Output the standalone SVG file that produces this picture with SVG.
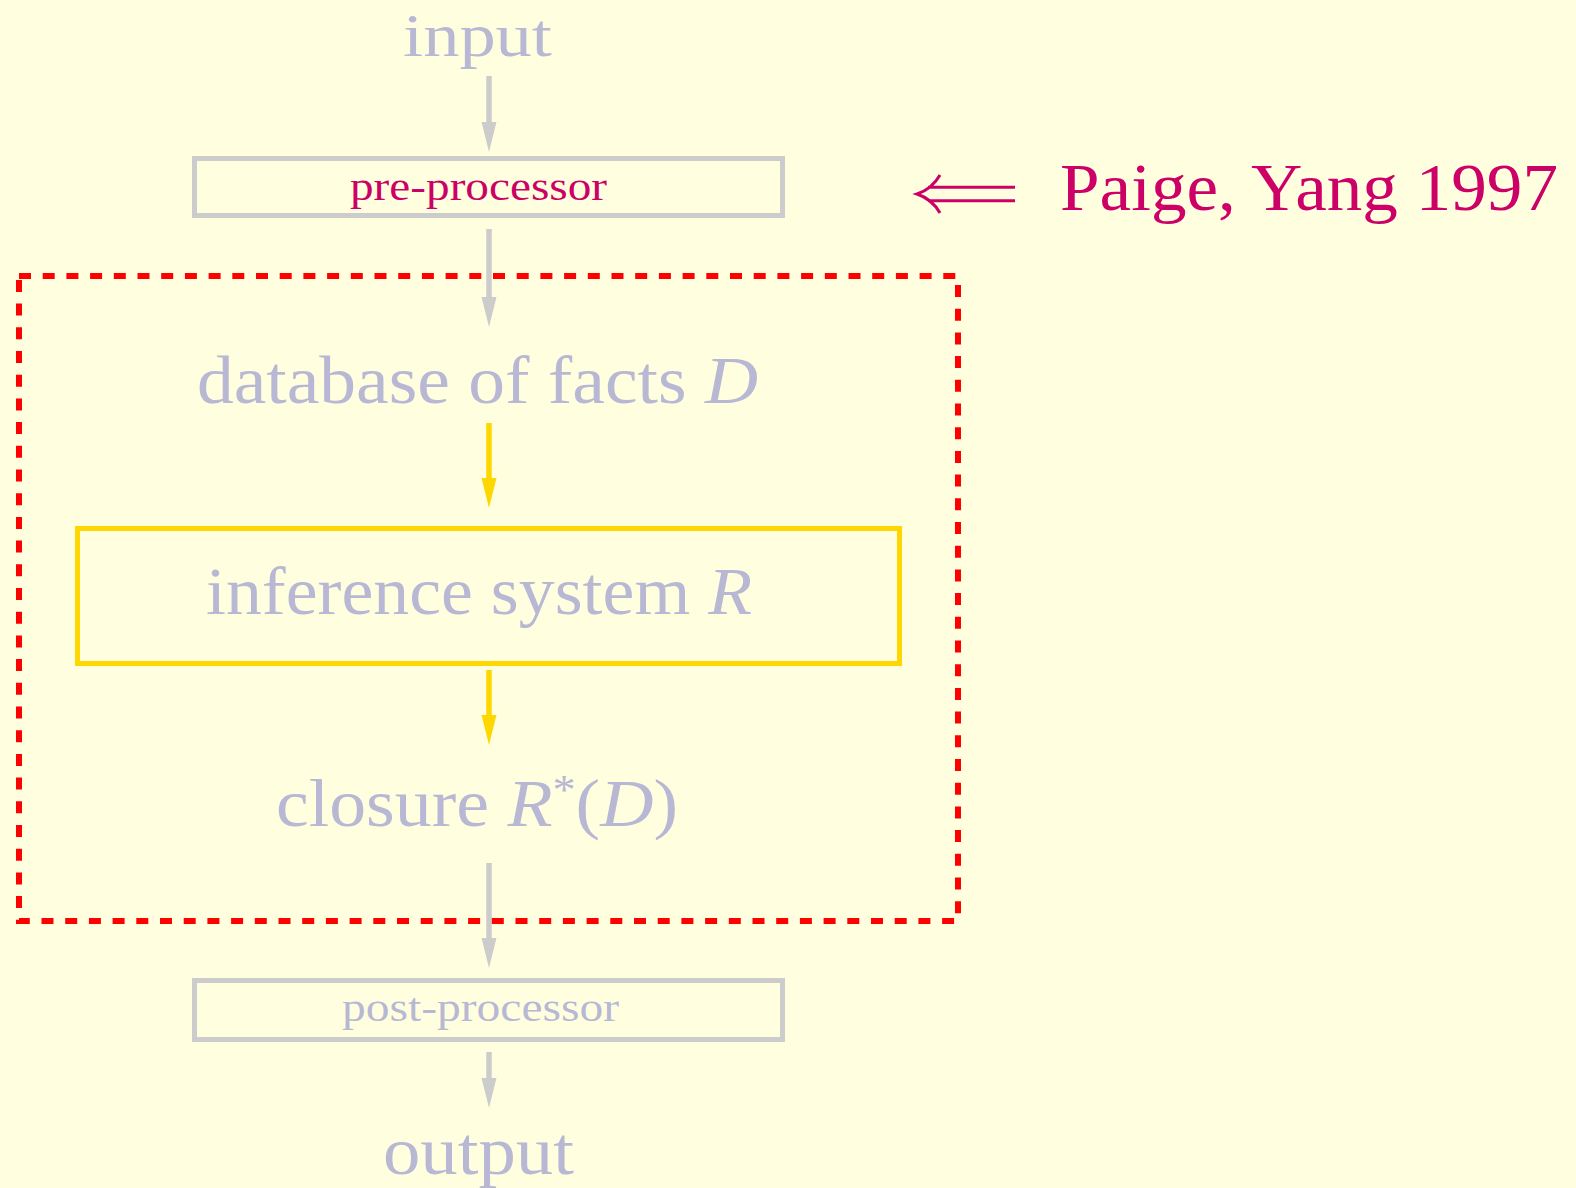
<svg xmlns="http://www.w3.org/2000/svg" width="1576" height="1188" viewBox="0 0 1576 1188">
<style>
.big{font-family:"Liberation Serif","DejaVu Serif",serif;font-size:67px;fill:#b8b8d4}
.small{font-family:"Liberation Serif","DejaVu Serif",serif;font-size:40px}
.it{font-style:italic}
.gline{stroke:#cccccc;stroke-width:5.5;fill:none}
.yline{stroke:#ffd700;stroke-width:5.5;fill:none}
.gbox{stroke:#cccccc;stroke-width:5;fill:none}
.ybox{stroke:#ffd700;stroke-width:5;fill:none}
</style>
<defs>
<marker id="hg" markerUnits="userSpaceOnUse" markerWidth="32" markerHeight="16" refX="0" refY="7.5" orient="auto" viewBox="0 0 32 16">
<path d="M0,0 L30,7.5 L0,15 Z" fill="#cccccc"/>
</marker>
<marker id="hy" markerUnits="userSpaceOnUse" markerWidth="32" markerHeight="16" refX="0" refY="7.5" orient="auto" viewBox="0 0 32 16">
<path d="M0,0 L30,7.5 L0,15 Z" fill="#ffd700"/>
</marker>
</defs>
<rect width="1576" height="1188" fill="#ffffe0"/>

<g id="connectors">
<path class="gline" d="M489,76 V122" marker-end="url(#hg)"/>
<path class="gline" d="M489,229 V297" marker-end="url(#hg)"/>
<path class="yline" d="M489,423 V478" marker-end="url(#hy)"/>
<path class="yline" d="M489,670 V715" marker-end="url(#hy)"/>
<path class="gline" d="M489,863 V938" marker-end="url(#hg)"/>
<path class="gline" d="M489,1052 V1078" marker-end="url(#hg)"/>
</g>

<g id="group-box">
<path d="M19,276 H958 V921 H19 Z" fill="none" stroke="#ff0000" stroke-width="6" stroke-dasharray="12 11.7"/>
</g>

<g id="input">
<text class="big" x="403" y="56" font-size="62" style="font-size:62px" textLength="149" lengthAdjust="spacingAndGlyphs">input</text>
</g>

<g id="pre-processor">
<rect class="gbox" x="194.5" y="158.5" width="588" height="57"/>
<text class="small" x="350" y="200" fill="#cc0066" textLength="257" lengthAdjust="spacingAndGlyphs">pre-processor</text>
</g>

<g id="citation">
<path d="M1015,187.3 H928 M1015,200.7 H928 M940,175 Q932,189 917,194 Q932,199 940,213" fill="none" stroke="#cc0066" stroke-width="3"/>
<text class="big" x="1060" y="210" style="fill:#cc0066" textLength="498" lengthAdjust="spacingAndGlyphs">Paige, Yang 1997</text>
</g>

<g id="database">
<text class="big" x="197" y="403" textLength="561" lengthAdjust="spacingAndGlyphs">database of facts <tspan class="it">D</tspan></text>
</g>

<g id="inference">
<rect class="ybox" x="77.5" y="528.5" width="822" height="135"/>
<text class="big" x="206" y="614" textLength="546" lengthAdjust="spacingAndGlyphs">inference system <tspan class="it">R</tspan></text>
</g>

<g id="closure">
<text class="big" x="276" y="826" textLength="402" lengthAdjust="spacingAndGlyphs">closure <tspan class="it">R</tspan><tspan font-size="42" dy="-22">*</tspan><tspan dy="22">(</tspan><tspan class="it">D</tspan>)</text>
</g>

<g id="post-processor">
<rect class="gbox" x="194.5" y="980.5" width="588" height="59"/>
<text class="small" x="342" y="1021" fill="#b8b8d4" textLength="277" lengthAdjust="spacingAndGlyphs">post-processor</text>
</g>

<g id="output">
<text class="big" x="383" y="1174" textLength="191" lengthAdjust="spacingAndGlyphs">output</text>
</g>
</svg>
